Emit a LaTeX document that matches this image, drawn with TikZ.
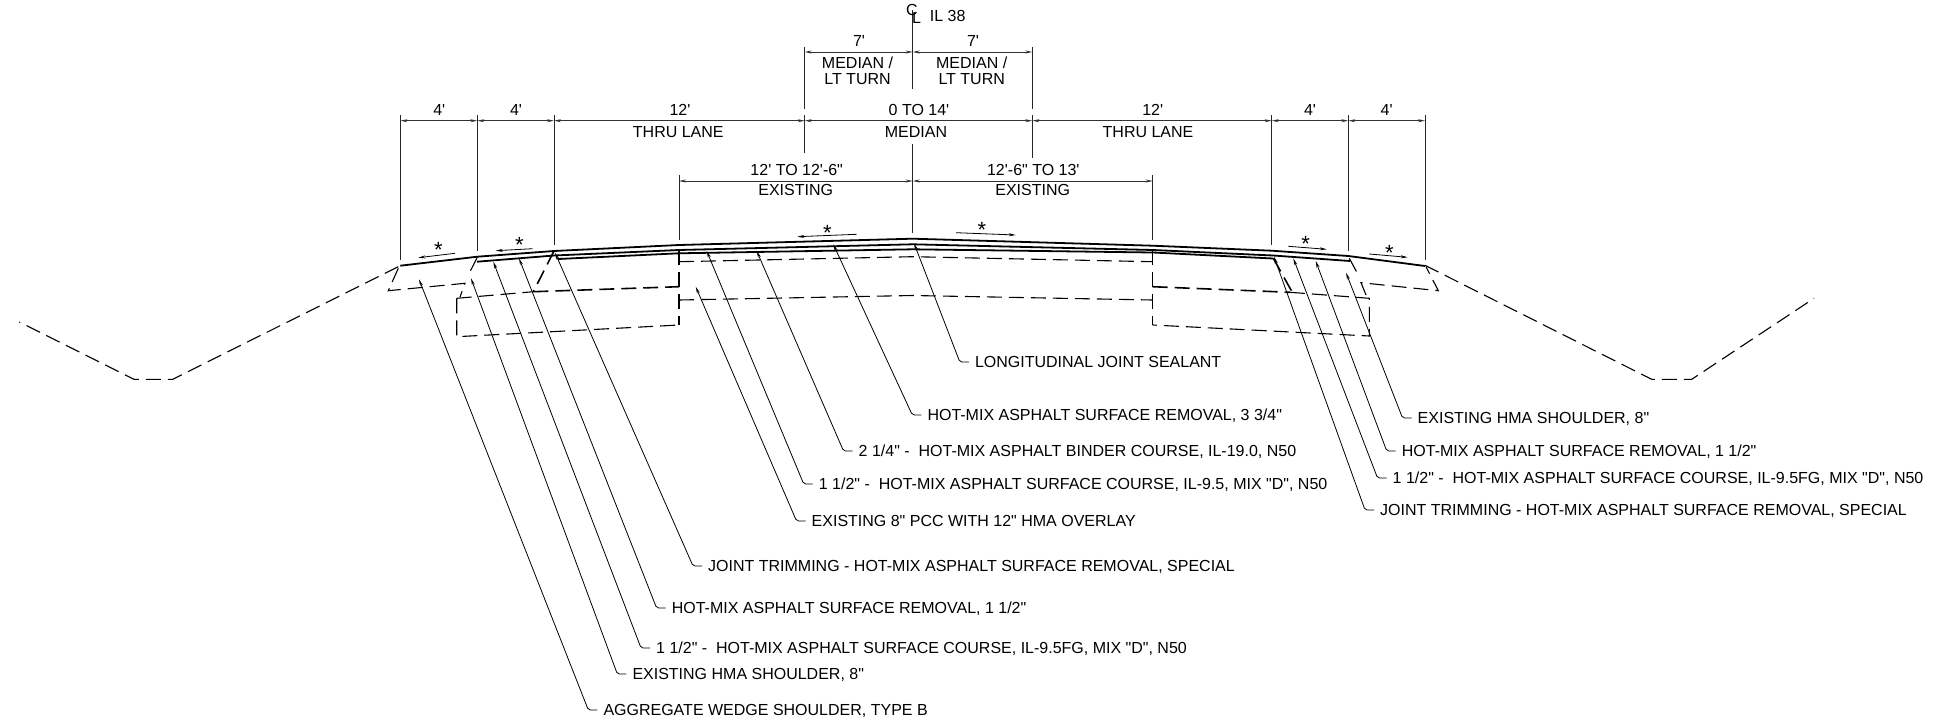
\documentclass[tikz,border=0pt]{standalone}
\usepackage{fontspec}
\usepackage{tikz}
\usetikzlibrary{arrows.meta}
\newfontfamily\notefont{Liberation Sans}

\begin{document}
\begin{tikzpicture}[
x = 1pt, y = -1pt,
> = {Stealth[length=7pt,width=3pt]}, % arrow head style
every node/.style = {font=\notefont\fontsize{16}{18}\selectfont, text height=11.7pt, text depth=0pt, inner ysep=0pt},
note/.style = {anchor=west, inner xsep=6pt},
asterisk/.style = {font=\notefont\fontsize{22}{24}\selectfont},
leader/.style = {->, line width=0.8pt, rounded corners=2pt},
dim/.style = {<->, line width=0.8pt, black!80},
ext/.style = {line width=1pt, black!85},
slope/.style = {->, line width=0.8pt},
paved/.style = {line width=1.8pt},
old/.style = {line width=1.1pt, dash pattern=on 15pt off 7pt},
oldcut/.style = {line width=1.6pt, dash pattern=on 15pt off 7pt}
]
\useasboundingbox (0,0) rectangle (1934,723);

% stations of the dimension lines
\coordinate (s1) at (400.3,120.7);
\coordinate (s2) at (477.3,120.7);
\coordinate (s3) at (554,120.7);
\coordinate (s4) at (804.7,120.7);
\coordinate (s5) at (1032.3,120.7);
\coordinate (s6) at (1271.7,120.7);
\coordinate (s7) at (1348.3,120.7);
\coordinate (s8) at (1425,120.7);

\coordinate (m1) at (804.7,52);
\coordinate (m2) at (912.7,52);
\coordinate (m3) at (1032.3,52);

\coordinate (e1) at (679,181);
\coordinate (e2) at (912.7,181);
\coordinate (e3) at (1152.7,181);

% extension lines
\draw[ext] (400.3,115) -- (400.3,260);
\draw[ext] (477.3,115) -- (477.3,251);
\draw[ext] (554,115) -- (554,245);
\draw[ext] (804.7,115) -- (804.7,152.7);
\draw[ext] (804.7,46.7) -- (804.7,109);
\draw[ext] (1032.3,46.7) -- (1032.3,109);
\draw[ext] (1032.3,115) -- (1032.3,158.3);
\draw[ext] (1271.7,115) -- (1271.7,245);
\draw[ext] (1348.3,115) -- (1348.3,251);
\draw[ext] (1425,115) -- (1425,260);
\draw[ext] (679,175) -- (679,240);
\draw[ext] (1152.7,175) -- (1152.7,240);
\draw[ext] (912.7,10) -- (912.7,89.3);
\draw[ext] (912.7,144.3) -- (912.7,232.7);

% dimension lines
\draw[dim] (s1) -- (s2);
\draw[dim] (s2) -- (s3);
\draw[dim] (s3) -- (s4);
\draw[dim] (s4) -- (s5);
\draw[dim] (s5) -- (s6);
\draw[dim] (s6) -- (s7);
\draw[dim] (s7) -- (s8);
\draw[dim] (m1) -- (m2);
\draw[dim] (m2) -- (m3);
\draw[dim] (e1) -- (e2);
\draw[dim] (e2) -- (e3);

% dimension text
\node (cl1) at (912,10) {C};
\node (cl2) at (916.5,18) {L};
\node (route) at (947.7,16) {IL 38};
\node (d1) at (859,40.7) {7'};
\node (d2) at (973,40.7) {7'};
\node (d3) at (857.5,62.7) {MEDIAN /};
\node (d4) at (857.5,79) {LT TURN};
\node (d5) at (971.7,62.7) {MEDIAN /};
\node (d6) at (971.7,79) {LT TURN};
\node (d7) at (439.3,109.3) {4'};
\node (d8) at (516,109.3) {4'};
\node (d9) at (680,109.3) {12'};
\node (d10) at (678.3,131.7) {THRU LANE};
\node (d11) at (919,109.3) {0 TO 14'};
\node (d12) at (916,131.7) {MEDIAN};
\node (d13) at (1152.7,109.3) {12'};
\node (d14) at (1148,131.7) {THRU LANE};
\node (d15) at (1310,109.3) {4'};
\node (d16) at (1386.7,109.3) {4'};
\node (d17) at (796.7,169.3) {12' TO 12'-6"};
\node (d18) at (795.7,190) {EXISTING};
\node (d19) at (1033.3,169.3) {12'-6" TO 13'};
\node (d20) at (1032.7,190) {EXISTING};

% paved surface
\draw[paved] (400.3,265.7) -- (477.3,256.7) -- (554,251) -- (679,245) -- (912.7,238.7) -- (1152.7,245.7) -- (1271.7,250.7) -- (1348.3,256) -- (1425,266);
\draw[paved] (477,261.7) -- (554,255.5) -- (679,250) -- (912.7,244.3) -- (1153,250) -- (1273,255.5) -- (1350,261);
\draw[paved] (558,259) -- (679,253.3) -- (912.7,249.3) -- (1153,252.5) -- (1273,258.5);

% side slopes and ditches
\draw[old] (398.3,266.7) -- (172.7,379.3) -- (134,379.3) -- (19.3,322);
\draw[old] (1425,265.3) -- (1651.7,379.3) -- (1691.7,379.3) -- (1814,298.3);

% existing pavement
\draw[old] (398.3,268.3) -- (388.3,290.7) -- (465,283.3) -- (460,297);
\draw[old] (477.3,257.3) -- (468.3,275);
\draw[old] (456.7,298.3) -- (533.3,291.7);
\draw[oldcut] (533.3,291.7) -- (679,286.7);
\draw[old] (456.7,298.3) -- (456.7,336.7) -- (679,325);
\draw[oldcut] (554,251) -- (533.3,291.7);
\draw[old] (679,250) -- (679,325);
\draw[old] (679,261.7) -- (912.7,256.7) -- (1152.7,261.7);
\draw[old] (679,300) -- (912.7,295.5) -- (1152.7,300);
\draw[old] (1152.7,250) -- (1152.7,325);
\draw[oldcut] (1152.7,286.7) -- (1290,292.3);
\draw[old] (1290,292.3) -- (1369.3,298.3) -- (1369.3,336) -- (1152.7,325);
\draw[oldcut] (1273.3,258.3) -- (1292.3,292.3);
\draw[old] (1349.3,258.3) -- (1358.3,275);
\draw[old] (1366,295) -- (1361,282.7) -- (1438.3,290.7) -- (1426,266.7);

% cross slope arrows
\coordinate (a1) at (455,253.3);
\coordinate (b1) at (418.3,257.7);
\coordinate (a2) at (532.7,248.7);
\coordinate (b2) at (495.7,250.7);
\coordinate (a3) at (856.7,234.3);
\coordinate (b3) at (797.3,236.7);
\coordinate (a4) at (956,232.7);
\coordinate (b4) at (1015.7,235);
\coordinate (a5) at (1288.3,246.3);
\coordinate (b5) at (1326.7,249.3);
\coordinate (a6) at (1369.3,254);
\coordinate (b6) at (1407.7,257.3);
\draw[slope] (a1) -- (b1);
\draw[slope] (a2) -- (b2);
\draw[slope] (a3) -- (b3);
\draw[slope] (a4) -- (b4);
\draw[slope] (a5) -- (b5);
\draw[slope] (a6) -- (b6);
\node[asterisk] (st1) at (438.3,251.2) {*};
\node[asterisk] (st2) at (519.3,246.5) {*};
\node[asterisk] (st3) at (827.3,234.5) {*};
\node[asterisk] (st4) at (982,231.5) {*};
\node[asterisk] (st5) at (1305.7,245.5) {*};
\node[asterisk] (st6) at (1389.3,254.9) {*};

% left notes
\node[note] (wedge) at (597.3,710) {AGGREGATE WEDGE SHOULDER, TYPE B};
\node[note] (lshoulder) at (626.3,674) {EXISTING HMA SHOULDER, 8"};
\node[note] (lfine) at (650,648) {1 1/2" -\ \ HOT-MIX ASPHALT SURFACE COURSE, IL-9.5FG, MIX "D", N50};
\node[note] (lremoval) at (665.6,608) {HOT-MIX ASPHALT SURFACE REMOVAL, 1 1/2"};
\node[note] (ltrim) at (702,566) {JOINT TRIMMING - HOT-MIX ASPHALT SURFACE REMOVAL, SPECIAL};

% centre notes
\node[note] (pcc) at (805.5,521) {EXISTING 8" PCC WITH 12" HMA OVERLAY};
\node[note] (surface) at (812.7,484) {1 1/2" -\ \ HOT-MIX ASPHALT SURFACE COURSE, IL-9.5, MIX "D", N50};
\node[note] (binder) at (852.5,451) {2 1/4" -\ \ HOT-MIX ASPHALT BINDER COURSE, IL-19.0, N50};
\node[note] (removal) at (921.3,415) {HOT-MIX ASPHALT SURFACE REMOVAL, 3 3/4"};
\node[note] (sealant) at (968.8,362) {LONGITUDINAL JOINT SEALANT};

% right notes
\node[note] (rshoulder) at (1411.5,418) {EXISTING HMA SHOULDER, 8"};
\node[note] (rremoval) at (1395.7,451) {HOT-MIX ASPHALT SURFACE REMOVAL, 1 1/2"};
\node[note] (rfine) at (1386.5,478) {1 1/2" -\ \ HOT-MIX ASPHALT SURFACE COURSE, IL-9.5FG, MIX "D", N50};
\node[note] (rtrim) at (1374,510) {JOINT TRIMMING - HOT-MIX ASPHALT SURFACE REMOVAL, SPECIAL};

% leader tips
\coordinate (wedgetip) at (419,279.3);
\coordinate (lshouldertip) at (471,278.3);
\coordinate (lfinetip) at (493.3,261.7);
\coordinate (lremovaltip) at (519,258.3);
\coordinate (ltrimtip) at (555,252.7);
\coordinate (pcctip) at (695.7,286.7);
\coordinate (surfacetip) at (706.7,251);
\coordinate (bindertip) at (756.7,251);
\coordinate (removaltip) at (833.3,244.3);
\coordinate (sealanttip) at (914,243.3);
\coordinate (rshouldertip) at (1346,272.7);
\coordinate (rremovaltip) at (1315.7,261);
\coordinate (rfinetip) at (1293.3,258.3);
\coordinate (rtrimtip) at (1274,256.7);

\draw[leader] (wedge.west) -- ++(-9,0) -- (wedgetip);
\draw[leader] (lshoulder.west) -- ++(-9,0) -- (lshouldertip);
\draw[leader] (lfine.west) -- ++(-9,0) -- (lfinetip);
\draw[leader] (lremoval.west) -- ++(-9,0) -- (lremovaltip);
\draw[leader] (ltrim.west) -- ++(-9,0) -- (ltrimtip);
\draw[leader] (pcc.west) -- ++(-9,0) -- (pcctip);
\draw[leader] (surface.west) -- ++(-9,0) -- (surfacetip);
\draw[leader] (binder.west) -- ++(-9,0) -- (bindertip);
\draw[leader] (removal.west) -- ++(-9,0) -- (removaltip);
\draw[leader] (sealant.west) -- ++(-9,0) -- (sealanttip);
\draw[leader] (rshoulder.west) -- ++(-9,0) -- (rshouldertip);
\draw[leader] (rremoval.west) -- ++(-9,0) -- (rremovaltip);
\draw[leader] (rfine.west) -- ++(-9,0) -- (rfinetip);
\draw[leader] (rtrim.west) -- ++(-9,0) -- (rtrimtip);

\end{tikzpicture}
\end{document}
